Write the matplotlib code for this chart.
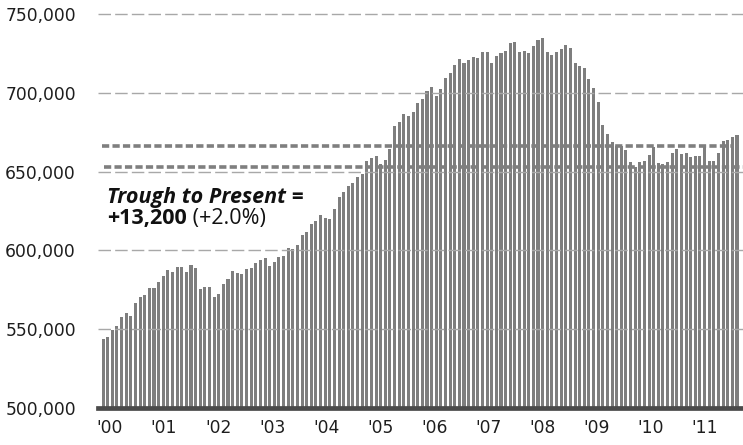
import matplotlib
matplotlib.use('Agg')
import matplotlib.pyplot as plt
import numpy as np

plt.rcParams['font.family'] = ['Open Sans', 'DejaVu Sans']

# monthly values, Jan 2000 .. Jun 2011
jobs = [
    543600, 544900, 549500, 552000, 557500, 560100, 558400, 566800, 570200, 571700, 575900, 575900,
    579800, 583900, 587600, 586100, 589700, 589300, 586500, 590700, 588600, 575300, 577000, 577000,
    570600, 572100, 578500, 582000, 586900, 585900, 584800, 587900, 588600, 591800, 593900, 595000,
    590100, 592800, 596000, 596400, 601300, 600700, 603400, 609800, 611900, 616600, 618800, 622400,
    620400, 619900, 626100, 634100, 637200, 640900, 643000, 646400, 648500, 656700, 658800, 659900,
    654800, 657400, 664300, 679200, 681700, 686300, 685300, 688000, 693700, 695900, 701100, 703500,
    698000, 702200, 709600, 712700, 717600, 721300, 718700, 720800, 722900, 722300, 726100, 726100,
    718700, 723300, 725100, 726700, 731400, 732400, 725700, 726500, 725100, 729700, 733500, 734800,
    726100, 724000, 726100, 727800, 730300, 728200, 718700, 717000, 715900, 708500, 702800, 694300,
    679600, 673700, 669000, 666400, 666400, 663700, 656300, 652900, 656300, 656900, 660500, 665600,
    655600, 654600, 656300, 662000, 664300, 661200, 662000, 659500, 659900, 659900, 665600, 656700,
    656700, 661800, 669600, 670000, 672100, 673200,
]
year_labels = ["'00", "'01", "'02", "'03", "'04", "'05", "'06", "'07", "'08", "'09", "'10", "'11"]
y_ticks = [500000, 550000, 600000, 650000, 700000, 750000]
trough = 652800
present = 666000
note_title = 'Trough to Present ='
note_change = '+13,200'
note_pct = ' (+2.0%)'

fig = plt.figure(figsize=(7.43, 4.45), dpi=100)
ax = fig.add_axes([98 / 743, 37 / 445, 1 - 98 / 743, 0.8926])

x = np.arange(len(jobs))
ax.bar(x, jobs, width=0.66, color='#7e7e7e', linewidth=0, zorder=2)

x0, x1 = -1.1, len(jobs) + 0.3
ax.set_ylim(500000, 752000)
ax.set_xlim(x0, x1)

# grid on top of the bars
for v in y_ticks[1:]:
    ax.axhline(v, color='#a8a8a8', lw=1.0, dashes=(9, 3), zorder=3)

# trough / present reference lines
ax.axhline(present, xmin=0.006, xmax=0.985, color='#7f7f7f', lw=2.6, dashes=(2.0, 0.9), zorder=4)
ax.axhline(trough, xmin=0.01, color='#7f7f7f', lw=2.6, dashes=(2.0, 0.9), zorder=4)

for s in ['top', 'right', 'left']:
    ax.spines[s].set_visible(False)
ax.spines['bottom'].set_color('#4a4a4a')
ax.spines['bottom'].set_linewidth(3.4)
ax.spines['bottom'].set_zorder(5)

# year labels sit a little left of each January bar as the years go on
tick_px = [110 + 54.1 * i for i in range(len(year_labels))]
ax.set_xticks([x0 + (p - 98) / 645 * (x1 - x0) for p in tick_px])
ax.set_xticklabels(year_labels, family=['DejaVu Sans'])
ax.set_yticks(y_ticks)
ax.set_yticklabels([f'{v:,}' for v in y_ticks], family=['DejaVu Sans'])
ax.tick_params(axis='y', length=0, pad=16, labelsize=12.3, labelcolor='#1e1e1e')
ax.tick_params(axis='x', length=0, pad=8, labelsize=12.3, labelcolor='#1e1e1e')

t1 = ax.text(0.8, 630100, note_title, fontsize=15.5, fontweight='bold', fontstyle='italic',
             color='#111111', va='baseline', zorder=6)
t2 = ax.text(0.8, 616700, note_change, fontsize=15.5, fontweight='bold',
             color='#111111', va='baseline', zorder=6)
ax.annotate(note_pct, xy=(1, 0), xycoords=t2, va='bottom', ha='left',
            fontsize=15.5, color='#111111', zorder=6)

fig.savefig('out.png', dpi=100)
